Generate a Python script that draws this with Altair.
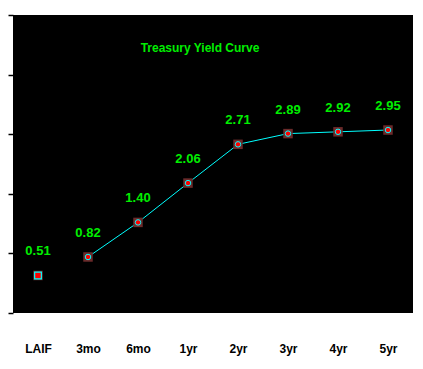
import altair as alt
import pandas as pd

terms = ["LAIF", "3mo", "6mo", "1yr", "2yr", "3yr", "4yr", "5yr"]
yields = [0.51, 0.82, 1.40, 2.06, 2.71, 2.89, 2.92, 2.95]
labels = ["0.51", "0.82", "1.40", "2.06", "2.71", "2.89", "2.92", "2.95"]
kind = ["laif", "t", "t", "t", "t", "t", "t", "t"]

df = pd.DataFrame({"term": terms, "yield": yields, "label": labels, "kind": kind})

green = "#00ee00"
x = alt.X("term:N", sort=terms, scale=alt.Scale(paddingInner=0, paddingOuter=0),
          axis=alt.Axis(title=None, ticks=False, domain=False, labelAngle=0,
                        labelFont="Liberation Sans", labelFontWeight="bold",
                        labelFontSize=12, labelColor="black", labelPadding=30))
y = alt.Y("yield:Q", scale=alt.Scale(domain=[-0.12, 4.88], nice=False, zero=False),
          axis=alt.Axis(title=None, labels=False, domain=False, grid=False,
                        values=[-0.12, 0.88, 1.88, 2.88, 3.88, 4.88],
                        tickColor="black", tickSize=5, tickWidth=1.5))

base = alt.Chart(df).encode(x=x, y=y)

line = base.transform_filter(alt.datum.kind == "t").mark_line(color="#00ffff", strokeWidth=1)
bg = base.mark_point(shape="square", filled=True, color="#6b2a2a", size=90, opacity=1)
dots = base.transform_filter(alt.datum.kind == "t").mark_point(
    shape="circle", filled=True, fill="#ff0000", stroke="#00ffff", strokeWidth=1, size=30, opacity=1)
laif = base.transform_filter(alt.datum.kind == "laif").mark_point(
    shape="square", filled=True, fill="#ff0000", stroke="#00ffff", strokeWidth=1.2, size=45, opacity=1)
txt = base.mark_text(dy=-24, font="Liberation Sans", fontWeight="bold", fontSize=13,
                     color=green, baseline="middle").encode(text="label:N")
title = alt.Chart(pd.DataFrame({"t": ["Treasury Yield Curve"]})).mark_text(
    font="Liberation Sans", fontWeight="bold", fontSize=12, color=green, baseline="middle"
).encode(x=alt.value(187), y=alt.value(33), text="t:N")

chart = alt.layer(line, bg, dots, laif, txt, title).properties(
    width=400, height=298,
    autosize=alt.AutoSizeParams(type="none"),
    padding={"left": 5, "top": 7, "right": 2, "bottom": 48},
    background="white",
).configure_view(fill="black", stroke=None)

chart.save("out.html", embed_options={"renderer": "svg", "actions": False})
